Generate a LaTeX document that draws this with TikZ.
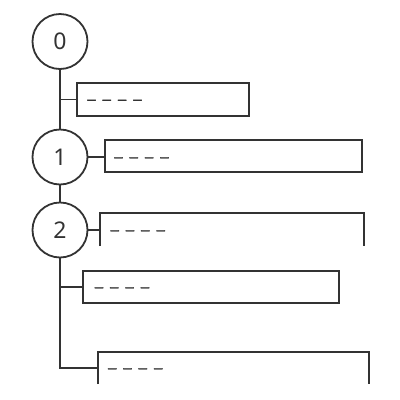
\documentclass[tikz,border=0pt]{standalone}
\usepackage{fontspec}
\setmainfont{Noto Sans}
\newfontfamily\dashfont{Liberation Sans}[FakeBold=2.5]
\newcommand{\dgap}{\hspace{7pt}}
\newcommand{\dashes}{–\dgap–\dgap–\dgap–}
\begin{document}
\begin{tikzpicture}[x=1pt,y=-1pt,
  ln/.style={line width=1.8pt,draw=black!80},
  stepcircle/.style={ln,circle,minimum size=55pt,inner sep=0pt,font=\fontsize{23}{24}\selectfont,text=black!80},
  stepbox/.style={ln,rectangle,inner sep=0pt},
  openbox/.style={rectangle,inner sep=0pt},
  dashtext/.style={anchor=base west,inner sep=0pt,yshift=-4.6pt,font=\dashfont\fontsize{15}{18}\selectfont,text=black!80}]
\useasboundingbox (0,0) rectangle (400,400);
% circles
\node[stepcircle] (c0) at (60,41.5) {0};
\node[stepcircle] (c1) at (60,157) {1};
\node[stepcircle] (c2) at (60,230) {2};
% boxes
\node[stepbox,minimum width=172pt,minimum height=33pt] (A) at (163,99.5) {};
\node[stepbox,minimum width=257pt,minimum height=32pt] (B) at (233.5,156) {};
\node[openbox,minimum width=264pt,minimum height=33pt] (C) at (232,229.5) {};
\node[stepbox,minimum width=256pt,minimum height=32pt] (D) at (211,287) {};
\node[openbox,minimum width=271pt,minimum height=32pt] (E) at (233.5,368) {};
\draw[ln] (C.south west) -- (C.north west) -- (C.north east) -- (C.south east);
\draw[ln] (E.south west) -- (E.north west) -- (E.north east) -- (E.south east);
% spine
\coordinate (jA) at (60,99.5);
\coordinate (jD) at (60,287);
\coordinate (jE) at (60,368);
\draw[ln] (c0.south) -- (c1.north);
\draw[ln] (c1.south) -- (c2.north);
\draw[ln] (c2.south) -- (jE) -- (E.west);
\draw[ln] (jA) -- (A.west);
\draw[ln] (c1.east) -- (c1.east -| B.west);
\draw[ln] (c2.east) -- (c2.east -| C.west);
\draw[ln] (jD) -- (D.west);
% texts
\node[dashtext] (tA) at ([xshift=11pt]A.west) {\dashes};
\node[dashtext] (tB) at ([xshift=10pt]c1.east -| B.west) {\dashes};
\node[dashtext] (tC) at ([xshift=10.5pt]c2.east -| C.west) {\dashes};
\node[dashtext] (tD) at ([xshift=12.5pt]D.west) {\dashes};
\node[dashtext] (tE) at ([xshift=10pt]E.west) {\dashes};
\end{tikzpicture}
\end{document}
